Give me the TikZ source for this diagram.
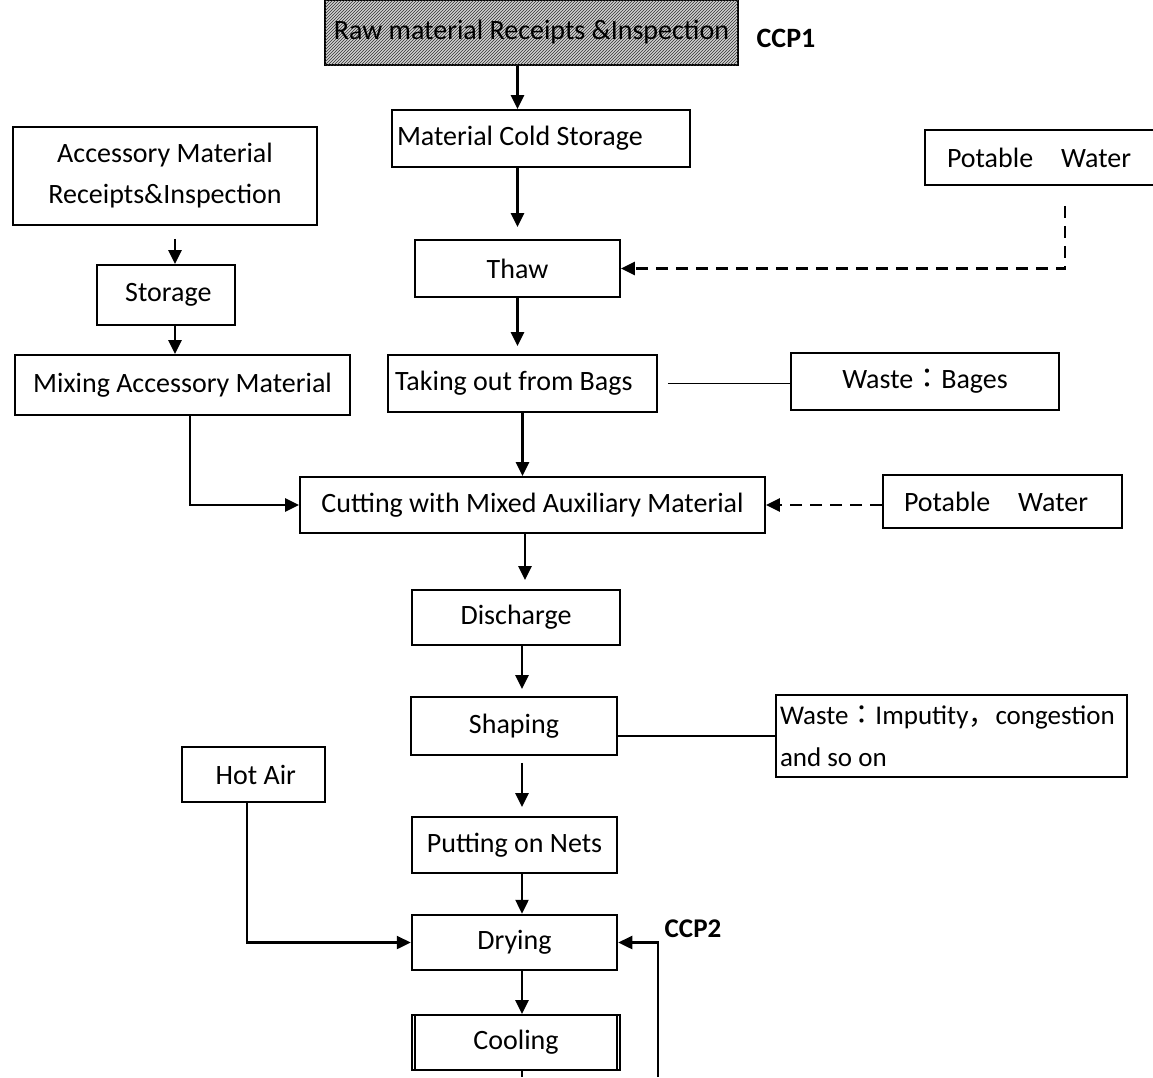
\documentclass[tikz,border=0pt]{standalone}
\usepackage{fontspec}
\setmainfont{Carlito}
\newfontfamily\cjk{Noto Sans CJK JP}
\usetikzlibrary{arrows.meta,patterns}

\tikzset{
    box/.style={draw, line width=1.8pt, minimum height=56pt, inner xsep=6pt},
    arr/.style={line width=2.4pt, -{Triangle[length=14pt,width=13pt]}},
    dasharr/.style={arr, dash pattern=on 12pt off 8pt},
    plain/.style={line width=1.8pt},
}

\begin{document}
\begin{tikzpicture}[x=1pt, y=-1pt, font=\fontsize{28}{41}\selectfont]
            \useasboundingbox (0,0) rectangle (1153,1077);
            % Nodes
            \node[box, line width=2.5pt, minimum width=413pt, minimum height=65pt, fill=gray!35,
                postaction={pattern=north east lines, pattern color=gray!40!black}] (raw) at (531.5,32.5) {\raisebox{-5pt}{Raw material Receipts \&Inspection}};
            \node[font=\fontsize{28}{30}\selectfont\bfseries] (ccp1) at (786,38) {CCP1};
            \node[box, minimum width=298pt, minimum height=57pt, text width=288pt, inner xsep=5pt, align=flush left] (cold) at (541,138.5) {Material Cold Storage};
            \node[box, minimum width=205pt, minimum height=57pt] (thaw) at (517.5,268.5) {Thaw};
            \node[box, minimum width=240pt, minimum height=55pt, text width=196pt, inner xsep=22pt, align=flush left] (pw1) at (1045,157.5) {\raisebox{-5pt}{Potable\quad{}Water}};
            \node[box, minimum width=304pt, minimum height=98pt, align=center] (acc) at (165,176) {\raisebox{-4pt}{Accessory Material}\\\raisebox{-4pt}{Receipts\&Inspection}};
            \node[box, minimum width=138pt, minimum height=60pt] (stor) at (166,295) {\,Storage};
            \node[box, minimum width=335pt, minimum height=60pt] (mix) at (182.5,385) {Mixing Accessory Material};
            \node[box, minimum width=269pt, minimum height=57pt, text width=255pt, inner xsep=7pt, align=flush left] (take) at (522.5,383.5) {Taking out from Bags};
            \node[box, minimum width=268pt, minimum height=57pt] (bags) at (925,381.5) {Waste{\cjk ：}Bages};
            \node[box, minimum width=465pt, minimum height=56pt] (cut) at (532.5,505) {Cutting with Mixed Auxiliary Material};
            \node[box, minimum width=239pt, minimum height=53pt, text width=197pt, inner xsep=21pt, align=flush left] (pw2) at (1002.5,501.5) {\raisebox{-4pt}{Potable\quad{}Water}};
            \node[box, minimum width=208pt, minimum height=55pt] (disc) at (516,617.5) {Discharge};
            \node[box, minimum width=206pt, minimum height=58pt] (shaping) at (514,726) {Shaping};
            \node[box, minimum width=351pt, minimum height=82pt, text width=343pt, inner xsep=4pt, align=flush left,
                font=\fontsize{27}{42}\selectfont] (waste) at (951.5,736) {Waste{\cjk ：}Imputity{\cjk ，}congestion\\and so on};
            \node[box, minimum width=143pt, minimum height=55pt] (hot) at (253.5,774.5) {\,Hot Air};
            \node[box, minimum width=205pt, minimum height=56pt] (nets) at (514.5,845) {Putting on Nets};
            \node[box, line width=2.5pt, minimum width=205pt, minimum height=55pt] (dry) at (514.5,942.5) {Drying};
            \node[font=\fontsize{27}{30}\selectfont\bfseries] (ccp2) at (693,929) {CCP2};
            \node[box, minimum width=208pt, minimum height=55pt] (cool) at (516,1042.5) {Cooling};
            \draw[plain] ([xshift=4pt]cool.north west) -- ([xshift=4pt]cool.south west);
            \draw[plain] ([xshift=-4pt]cool.north east) -- ([xshift=-4pt]cool.south east);
            \coordinate (loop) at (658,1077);
            \coordinate (down) at (522,1077);

            % Lines
            \draw[arr] (raw.south -| thaw.north) -- (cold.north -| thaw.north);
            \draw[arr, shorten >=12pt] (cold.south -| thaw.north) -- (thaw.north);
            \draw[arr, shorten >=8pt] (thaw.south) -- (take.north -| thaw.south);
            \draw[arr] (take.south) -- (cut.north -| take.south);
            \draw[arr, shorten >=9pt] ([xshift=-7.5pt]cut.south) -- ([xshift=9pt]disc.north);
            \draw[arr, shorten >=7pt] ([xshift=6pt]disc.south) -- ([xshift=8pt]shaping.north);
            \draw[arr, shorten <=7pt, shorten >=9pt] ([xshift=8pt]shaping.south) -- ([xshift=7.5pt]nets.north);
            \draw[arr] ([xshift=7.5pt]nets.south) -- ([xshift=7.5pt]dry.north);
            \draw[arr] ([xshift=7.5pt]dry.south) -- ([xshift=6pt]cool.north);
            \draw[line width=2.4pt] ([xshift=6pt]cool.south) -- (down);
            \draw[arr, shorten <=13pt] ([xshift=10pt]acc.south) -- ([xshift=9pt]stor.north);
            \draw[arr] ([xshift=9pt]stor.south) -- ([xshift=-7.5pt]mix.north);
            \draw[arr] ([xshift=7.5pt]mix.south) |- (cut.west);
            \draw[arr] ([xshift=-6.5pt]hot.south) |- (dry.west);
            \draw[arr] (loop) |- (dry.east);
            \draw[plain] ([xshift=10pt]take.east) -- (take.east -| bags.west);
            \draw[plain] (shaping.east |- waste.west) -- (waste.west);
            \draw[dasharr, shorten <=20pt] ([xshift=20pt]pw1.south) |- (thaw.east);
            \draw[dasharr] (pw2.west |- cut.east) -- (cut.east);
        \end{tikzpicture}
\end{document}
